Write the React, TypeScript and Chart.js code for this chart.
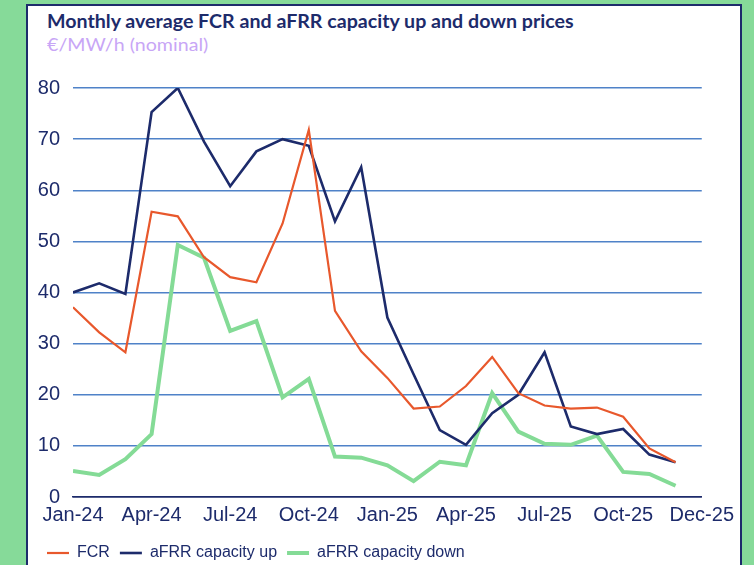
import React, { useEffect, useRef } from "react";
import { Chart, registerables } from "chart.js";

Chart.register(...registerables);

// Monthly values, Jan-24 .. Dec-25 (€/MW/h)
const months = [
  "Jan-24", "Feb-24", "Mar-24", "Apr-24", "May-24", "Jun-24", "Jul-24", "Aug-24", "Sep-24", "Oct-24", "Nov-24", "Dec-24",
  "Jan-25", "Feb-25", "Mar-25", "Apr-25", "May-25", "Jun-25", "Jul-25", "Aug-25", "Sep-25", "Oct-25", "Nov-25", "Dec-25",
];
const fcr = [37.1, 32.2, 28.3, 55.8, 54.9, 46.9, 43.0, 42.0, 53.5, 71.8, 36.4, 28.5, 23.3, 17.3, 17.7, 21.7, 27.4, 20.3, 17.9, 17.3, 17.5, 15.7, 9.5, 6.8];
const afrrUp = [40.0, 41.8, 39.7, 75.3, 80.0, 69.5, 60.8, 67.6, 70.0, 68.7, 53.9, 64.5, 35.1, 24.0, 13.1, 10.2, 16.4, 20.0, 28.3, 13.8, 12.3, 13.3, 8.3, 6.8];
const afrrDown = [5.1, 4.3, 7.4, 12.3, 49.3, 46.8, 32.5, 34.4, 19.5, 23.1, 7.9, 7.7, 6.2, 3.1, 6.9, 6.2, 20.3, 12.8, 10.4, 10.2, 12.0, 4.9, 4.5, 2.2];
const xTickLabels = ["Jan-24", "Apr-24", "Jul-24", "Oct-24", "Jan-25", "Apr-25", "Jul-25", "Oct-25", "Dec-25"];
const yTicks = [0, 10, 20, 30, 40, 50, 60, 70, 80];

const NAVY = "#1d2b6b";
const ORANGE = "#e8582c";
const GREEN = "#84db96";
const GRID = "#4f82c8";
const BG_GREEN = "#86da99";
const PURPLE = "#c8a6f6";
const FONT = "'Liberation Sans', Arial, sans-serif";

function toPoints(values: number[]) {
  return values.map((v, i) => ({ x: i, y: v, label: months[i] }));
}

export default function App() {
  const ref = useRef<HTMLCanvasElement | null>(null);

  useEffect(() => {
    document.body.style.margin = "0";
    const canvas = ref.current;
    if (!canvas) return;
    const chart = new Chart(canvas, {
      type: "line",
      data: {
        datasets: [
          { label: "FCR", data: toPoints(fcr), borderColor: ORANGE, backgroundColor: ORANGE, borderWidth: 2.2, pointRadius: 0, tension: 0 },
          { label: "aFRR capacity up", data: toPoints(afrrUp), borderColor: NAVY, backgroundColor: NAVY, borderWidth: 2.6, pointRadius: 0, tension: 0 },
          { label: "aFRR capacity down", data: toPoints(afrrDown), borderColor: GREEN, backgroundColor: GREEN, borderWidth: 4, pointRadius: 0, tension: 0 },
        ],
      },
      options: {
        responsive: false,
        animation: false,
        layout: { padding: { top: 28, right: 32, left: 9, bottom: 0 } },
        plugins: {
          tooltip: { enabled: false },
          title: { display: false },
          legend: {
            display: true,
            position: "bottom",
            align: "start",
            labels: {
              usePointStyle: true,
              pointStyle: "line",
              pointStyleWidth: 22,
              boxHeight: 16,
              padding: 10,
              color: NAVY,
              font: { family: FONT, size: 16 },
            },
          },
        },
        scales: {
          x: {
            type: "linear",
            min: 0,
            max: 24,
            afterFit: (scale: any) => {
              scale.height = scale.height + 2;
            },
            grid: { display: false, drawTicks: false },
            border: { display: true, color: NAVY, width: 1.5 },
            ticks: {
              stepSize: 3,
              autoSkip: false,
              maxRotation: 0,
              padding: 6,
              color: NAVY,
              font: { family: FONT, size: 20 },
              callback: (v: any) => xTickLabels[Math.round(Number(v) / 3)] ?? "",
            },
          },
          y: {
            min: 0,
            max: 80,
            afterFit: (scale: any) => {
              scale.width = 36;
            },
            afterBuildTicks: (scale: any) => {
              scale.ticks = yTicks.map((v) => ({ value: v }));
            },
            grid: {
              drawTicks: false,
              color: (ctx: any) => (ctx.tick && ctx.tick.value === 0 ? NAVY : GRID),
              lineWidth: 1.5,
            },
            border: { display: false },
            ticks: {
              padding: 13,
              color: NAVY,
              font: { family: FONT, size: 20 },
            },
          },
        },
      },
    });
    return () => chart.destroy();
  }, []);

  const textStyle = {
    position: "absolute" as const,
    left: 47,
    lineHeight: "18px",
    whiteSpace: "nowrap" as const,
    transform: "scaleX(1.09)",
    transformOrigin: "left center",
  };

  return (
    <div style={{ position: "relative", width: 754, height: 565, overflow: "hidden", background: BG_GREEN }}>
      <div
        style={{
          position: "absolute",
          left: 26,
          top: 4,
          width: 712,
          height: 620,
          background: "#ffffff",
          border: `2px solid ${NAVY}`,
        }}
      />
      <div style={{ ...textStyle, top: 10, font: "bold 18px Lato, sans-serif", color: NAVY }}>
        Monthly average FCR and aFRR capacity up and down prices
      </div>
      <div style={{ ...textStyle, top: 33, font: "18px Lato, sans-serif", color: PURPLE }}>
        €/MW/h (nominal)
      </div>
      <canvas
        ref={ref}
        width={712}
        height={511}
        style={{ position: "absolute", left: 28, top: 60, width: 712, height: 511 }}
      />
    </div>
  );
}
